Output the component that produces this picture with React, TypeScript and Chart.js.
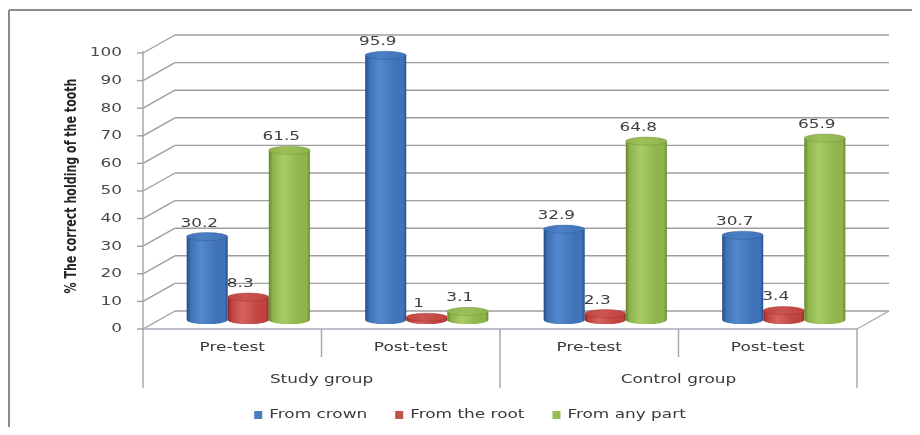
import React, { useEffect, useRef } from "react";
import { Chart, registerables } from "chart.js";

Chart.register(...registerables);

// ---- data ----
const categories = ["Pre-test", "Post-test", "Pre-test", "Post-test"];
const groups = ["Study group", "Control group"];
const seriesNames = ["From crown", "From the root", "From any part"];
const fromCrown = [30.2, 95.9, 32.9, 30.7];
const fromRoot = [8.3, 1, 2.3, 3.4];
const fromAnyPart = [61.5, 3.1, 64.8, 65.9];
const yTickValues = [0, 10, 20, 30, 40, 50, 60, 70, 80, 90, 100];
const yTitle = "% The correct holding of the tooth";

// cylinder shading: [base, dark edge, light highlight, top cap]
const palette = [
  ["#3f72b6", "#234d85", "#5489cf", "#4c80c4"],
  ["#c0433f", "#8a2a28", "#d66460", "#cc5450"],
  ["#8fb44c", "#66862e", "#a9cb66", "#9dbf5a"],
];
const legendColors = ["#4a7ebb", "#c0504d", "#9bbb59"];

const W = 904;
const H = 419;
const DX = 16; // half depth offset of the 3D box
const DY = -9;
const FONT = '13px "DejaVu Sans", sans-serif';
const SX = 1.3; // wide lettering

function wideText(
  ctx: CanvasRenderingContext2D,
  text: string,
  x: number,
  y: number,
  align: CanvasTextAlign,
  color: string
) {
  ctx.save();
  ctx.font = FONT;
  ctx.fillStyle = color;
  ctx.textBaseline = "middle";
  ctx.translate(x, y);
  ctx.scale(SX, 1);
  ctx.textAlign = align;
  ctx.fillText(text, 0, 0);
  ctx.restore();
}

function textWidth(ctx: CanvasRenderingContext2D, text: string) {
  ctx.save();
  ctx.font = FONT;
  const w = ctx.measureText(text).width * SX;
  ctx.restore();
  return w;
}

function line(ctx: CanvasRenderingContext2D, x1: number, y1: number, x2: number, y2: number) {
  ctx.beginPath();
  ctx.moveTo(x1, y1);
  ctx.lineTo(x2, y2);
  ctx.stroke();
}

function drawCylinder(
  ctx: CanvasRenderingContext2D,
  x: number,
  top: number,
  base: number,
  width: number,
  colors: string[]
) {
  const rx = width / 2;
  const ry = width * 0.1;
  const g = ctx.createLinearGradient(x - rx, 0, x + rx, 0);
  g.addColorStop(0, colors[1]);
  g.addColorStop(0.1, colors[0]);
  g.addColorStop(0.35, colors[2]);
  g.addColorStop(0.75, colors[0]);
  g.addColorStop(0.93, colors[0]);
  g.addColorStop(1, colors[1]);
  ctx.save();
  ctx.beginPath();
  ctx.moveTo(x - rx, top);
  ctx.lineTo(x - rx, base);
  ctx.ellipse(x, base, rx, ry, 0, Math.PI, 0, true);
  ctx.lineTo(x + rx, top);
  ctx.closePath();
  ctx.fillStyle = g;
  ctx.fill();
  // top cap
  const tg = ctx.createLinearGradient(x - rx, 0, x + rx, 0);
  tg.addColorStop(0, colors[0]);
  tg.addColorStop(0.4, colors[3]);
  tg.addColorStop(1, colors[0]);
  ctx.beginPath();
  ctx.ellipse(x, top, rx, ry, 0, 0, Math.PI * 2);
  ctx.fillStyle = tg;
  ctx.fill();
  ctx.strokeStyle = colors[1];
  ctx.globalAlpha = 0.35;
  ctx.lineWidth = 1;
  ctx.stroke();
  ctx.restore();
}

const box3d = {
  id: "box3d",
  beforeDatasetsDraw(chart: any) {
    const ctx: CanvasRenderingContext2D = chart.ctx;
    const xs = chart.scales.x;
    const ys = chart.scales.y;
    const area = chart.chartArea;
    const frontL = area.left - DX;
    const frontR = area.right - DX;
    const backL = area.left + DX;
    const backR = area.right + DX;
    const front0 = ys.getPixelForValue(0) - DY;

    ctx.save();
    // outer frame
    ctx.strokeStyle = "#8c8c8c";
    ctx.lineWidth = 2;
    line(ctx, 1, 2, 1, H + 5);
    line(ctx, 1, 2, W + 5, 2);

    // back wall grid + side diagonals + ticks
    ctx.lineWidth = 1.4;
    ctx.strokeStyle = "#9e9e9e";
    for (const v of yTickValues) {
      const py = ys.getPixelForValue(v);
      const fy = py - DY;
      const by = py + DY;
      line(ctx, backL, by, backR, by);
      line(ctx, frontL, fy, backL, by);
      line(ctx, frontL - 6, fy, frontL, fy);
      wideText(ctx, String(v), frontL - 21, fy, "right", "#4a4a4a");
    }
    // floor
    ctx.strokeStyle = "#a9a9b8";
    line(ctx, frontL, front0, frontR, front0);
    line(ctx, frontR, front0, backR, front0 + 2 * DY);
    // front axis
    ctx.strokeStyle = "#a3a3a3";
    line(ctx, frontL, ys.getPixelForValue(100) - DY - 2, frontL, front0 + 59);

    // category / group labels
    const n = categories.length;
    const step = (area.right - area.left) / n;
    for (let i = 0; i < n; i++) {
      const cx = xs.getPixelForValue(i) - DX;
      wideText(ctx, categories[i], cx, front0 + 19, "center", "#3a3a3a");
      const bx = cx + step / 2;
      const long = (i + 1) % 2 === 0;
      line(ctx, bx, front0, bx, front0 + (long ? 59 : 28));
    }
    for (let g = 0; g < groups.length; g++) {
      const c0 = xs.getPixelForValue(g * 2) - DX;
      const c1 = xs.getPixelForValue(g * 2 + 1) - DX;
      wideText(ctx, groups[g], (c0 + c1) / 2, front0 + 51, "center", "#3a3a3a");
    }

    // y title
    ctx.save();
    ctx.translate(64, 178);
    ctx.rotate(-Math.PI / 2);
    ctx.font = 'bold 15px "Liberation Sans Narrow", "DejaVu Sans Condensed", sans-serif';
    const tw = ctx.measureText(yTitle).width;
    ctx.scale(215 / tw, 1);
    ctx.fillStyle = "#262626";
    ctx.textAlign = "center";
    ctx.textBaseline = "middle";
    ctx.fillText(yTitle, 0, 0);
    ctx.restore();

    // legend
    const ly = 407;
    const gap = 28;
    const widths = seriesNames.map((s) => 8 + 7 + textWidth(ctx, s));
    const total = widths.reduce((a, b) => a + b, 0) + gap * (seriesNames.length - 1);
    let lx = 462 - total / 2;
    seriesNames.forEach((s, i) => {
      ctx.fillStyle = legendColors[i];
      ctx.fillRect(lx, ly - 4, 8, 8);
      wideText(ctx, s, lx + 15, ly, "left", "#3a3a3a");
      lx += widths[i] + gap;
    });

    // cylinders
    chart.data.datasets.forEach((ds: any, di: number) => {
      const meta = chart.getDatasetMeta(di);
      meta.data.forEach((el: any) => {
        const p = el.getProps(["x", "y", "base", "width"], true);
        drawCylinder(ctx, p.x, p.y, p.base, p.width, palette[di]);
      });
    });
    // value labels
    chart.data.datasets.forEach((ds: any, di: number) => {
      const meta = chart.getDatasetMeta(di);
      meta.data.forEach((el: any, j: number) => {
        const p = el.getProps(["x", "y"], true);
        wideText(ctx, String(ds.data[j]), p.x - 8, p.y - 13.5, "center", "#404040");
      });
    });
    ctx.restore();
    return false;
  },
};

export default function App() {
  const ref = useRef<HTMLCanvasElement>(null);
  useEffect(() => {
    if (!ref.current) return;
    const chart = new Chart(ref.current, {
      type: "bar",
      data: {
        labels: categories,
        datasets: [fromCrown, fromRoot, fromAnyPart].map((d, i) => ({
          label: seriesNames[i],
          data: d,
          backgroundColor: legendColors[i],
          categoryPercentage: 0.69,
          barPercentage: 1,
        })),
      },
      options: {
        responsive: false,
        animation: false,
        devicePixelRatio: 1,
        layout: { padding: { left: 151, right: W - 865, top: 36, bottom: H - 312 } },
        scales: {
          x: { display: false },
          y: { display: false, min: 0, max: 100 },
        },
        plugins: { legend: { display: false }, tooltip: { enabled: false } },
      },
      plugins: [box3d],
    });
    return () => chart.destroy();
  }, []);
  return <canvas ref={ref} width={W} height={H} style={{ display: "block" }} />;
}
